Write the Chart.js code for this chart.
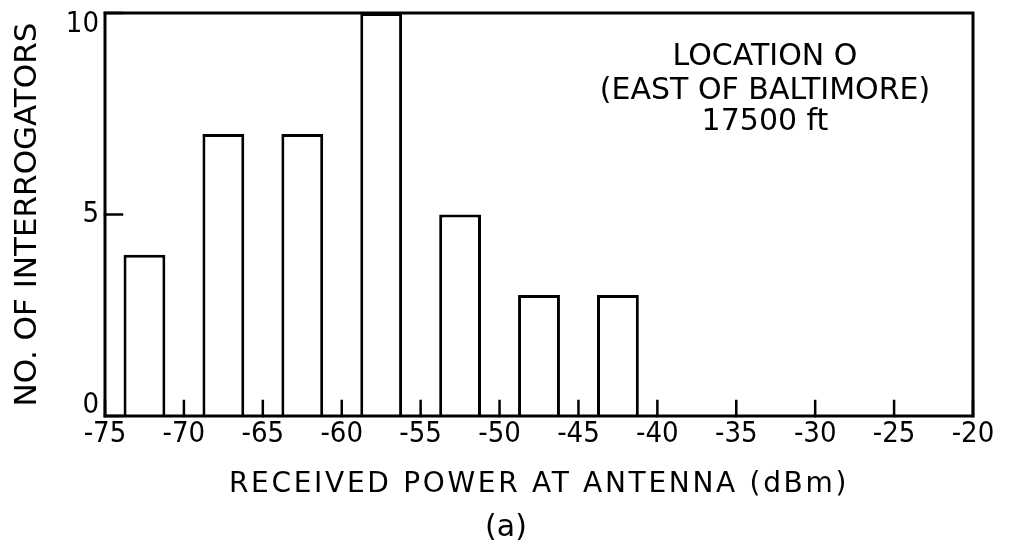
<!DOCTYPE html>
<html>
<head>
<meta charset="utf-8">
<script src="https://cdn.jsdelivr.net/npm/chart.js@4"></script>
<style>
  html, body { margin: 0; padding: 0; background: #fff; }
  #wrap { width: 1033px; height: 548px; }
</style>
</head>
<body>
<div id="wrap"><canvas id="c" width="1033" height="548"></canvas></div>
<script>
// ---- data ----
const binCenters = [-72.5, -67.5, -62.5, -57.5, -52.5, -47.5, -42.5];   // dBm (5 dB bins)
const counts     = [4, 7, 7, 10, 5, 3, 3];                                 // no. of interrogators
const xTicks     = [-75, -70, -65, -60, -55, -50, -45, -40, -35, -30, -25, -20];
const yTicks     = [0, 5, 10];
const xTitle     = 'RECEIVED POWER AT ANTENNA (dBm)';
const yTitle     = 'NO. OF INTERROGATORS';
const noteLines  = ['LOCATION O', '(EAST OF BALTIMORE)', '17500 ft'];
const panelLabel = '(a)';

const FONT_TICK = "'DejaVu Sans Condensed', 'Liberation Sans Narrow', 'DejaVu Sans', sans-serif";
const FONT = "'DejaVu Sans', 'Liberation Sans', sans-serif";
const INK = '#000';

const points = binCenters.map((x, i) => ({ x: x, y: counts[i] }));

const framePlugin = {
  id: 'frameAndText',
  afterLayout(chart) {
    // wider letter spacing for the x-axis title, as in the hand-lettered original
    const xs = chart.scales.x;
    if (!xs._spacedTitle) {
      const orig = xs.drawTitle;
      xs.drawTitle = function () {
        const ctx = this.ctx;
        ctx.save();
        if ('letterSpacing' in ctx) ctx.letterSpacing = '2.7px';
        orig.call(this);
        ctx.restore();
      };
      xs._spacedTitle = true;
    }
  },
  afterDatasetsDraw(chart) {
    const ctx = chart.ctx;
    const a = chart.chartArea;
    const xs = chart.scales.x, ys = chart.scales.y;
    ctx.save();
    ctx.strokeStyle = INK;
    ctx.lineWidth = 3;
    ctx.lineCap = 'square';
    // frame
    ctx.strokeRect(a.left, a.top, a.right - a.left, a.bottom - a.top);
    // inner x tick marks
    ctx.lineWidth = 2.5;
    xs.ticks.forEach(t => {
      const px = xs.getPixelForValue(t.value);
      ctx.beginPath();
      ctx.moveTo(px, a.bottom);
      ctx.lineTo(px, a.bottom - 15);
      ctx.stroke();
    });
    // inner y tick marks
    ys.ticks.forEach(t => {
      const py = ys.getPixelForValue(t.value);
      ctx.beginPath();
      ctx.moveTo(a.left, py);
      ctx.lineTo(a.left + 17, py);
      ctx.stroke();
    });
    // annotation
    ctx.fillStyle = INK;
    ctx.textAlign = 'center';
    ctx.textBaseline = 'middle';
    ctx.font = '30px ' + FONT;
    const noteX = 765, noteY = [57, 91, 122];
    noteLines.forEach((s, i) => ctx.fillText(s, noteX, noteY[i]));
    // panel label
    ctx.font = '30px ' + FONT;
    ctx.fillText(panelLabel, 506, 528);
    ctx.restore();
  }
};

new Chart(document.getElementById('c'), {
  type: 'bar',
  data: {
    datasets: [{
      data: points,
      backgroundColor: '#fff',
      borderColor: INK,
      borderWidth: 3,
      borderSkipped: 'start',
      barPercentage: 0.53,
      categoryPercentage: 1.0
    }]
  },
  options: {
    responsive: false,
    animation: false,
    devicePixelRatio: 1,
    layout: { padding: { left: 0, right: 60, top: 13, bottom: 0 } },
    plugins: { legend: { display: false }, tooltip: { enabled: false }, title: { display: false } },
    scales: {
      x: {
        type: 'linear',
        min: -75, max: -20,
        offset: false,
        grid: { display: false, offset: false, drawTicks: false },
        border: { display: false },
        afterBuildTicks: s => { s.ticks = xTicks.map(v => ({ value: v })); },
        afterFit: s => { s.height = 132; s.paddingLeft = 0; s.paddingRight = 0; },
        ticks: {
          color: INK,
          padding: 4,
          maxRotation: 0,
          autoSkip: false,
          font: { family: FONT_TICK, size: 29, lineHeight: 1.0 },
          callback: v => String(v)
        },
        title: {
          display: true,
          text: xTitle,
          color: INK,
          padding: { top: 0, bottom: 46 },
          font: { family: FONT, size: 28, lineHeight: 1.2 }
        }
      },
      y: {
        min: 0, max: 10,
        grid: { display: false, drawTicks: false },
        border: { display: false },
        afterBuildTicks: s => { s.ticks = yTicks.map(v => ({ value: v })); },
        afterFit: s => { s.width = 105; s.paddingTop = 0; s.paddingBottom = 0; },
        ticks: {
          color: INK,
          padding: 6,
          font: { family: FONT_TICK, size: 29, lineHeight: '22px' },
          callback: v => (v === 10 ? ['', '10'] : (v === 0 ? ['0', ''] : String(v)))
        },
        title: {
          display: true,
          text: yTitle,
          color: INK,
          padding: { top: 9, bottom: 0 },
          font: { family: FONT, size: 31, lineHeight: 1.2 }
        }
      }
    }
  },
  plugins: [framePlugin]
});
</script>
</body>
</html>
